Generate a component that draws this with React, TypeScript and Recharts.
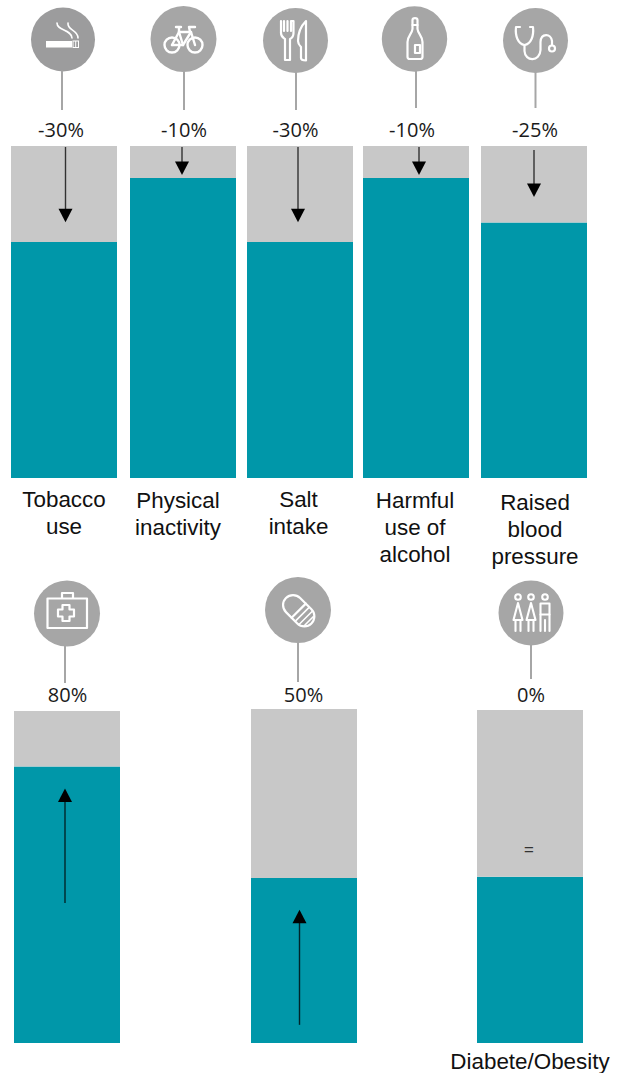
import React from "react";
import { ComposedChart, Bar, XAxis, YAxis, ReferenceLine } from "recharts";

// Voluntary targets: the upper row shows reductions, the lower row coverage goals.
const topCategories = [["Tobacco", "use"], ["Physical", "inactivity"], ["Salt", "intake"], ["Harmful", "use of", "alcohol"], ["Raised", "blood", "pressure"]];
const topPercentLabels = ["-30%", "-10%", "-30%", "-10%", "-25%"];
const topTargets = [70, 90, 70, 90, 75];
const topFull = [98.5, 99.6, 98.5, 99.6, 97.5];
const topArrowStarts = [98.2, 99.3, 98.2, 99.3, 96.3];
const topArrowTips = [75.9, 90.9, 75.9, 90.9, 82.5];

const bottomCategories = [[], [], ["Diabete/Obesity"]];
const bottomPercentLabels = ["80%", "50%", "0%"];
const bottomTargets = [80, 50, 50];
const bottomFull = [96.1, 101.2, 100.1];
const bottomArrowStarts = [40.5, 5.5, null];
const bottomArrowTips = [73.7, 40.4, null];

// Layout of the columns, in page pixels.
const TEAL = "#0097A9";
const GRAY = "#C8C8C8";
const PIN = "#A6A6A6";
const topLayout = [
  { left: 11, arrowDx: 1.5, textX: 64, textY: 507 },
  { left: 130, arrowDx: -1, textX: 178, textY: 508 },
  { left: 247, arrowDx: -2, textX: 298.5, textY: 507 },
  { left: 363, arrowDx: 3, textX: 415, textY: 508 },
  { left: 481, arrowDx: 0, textX: 535, textY: 510 },
];
const bottomLayout = [
  { left: 14, top: 711, height: 332, arrowDx: -2, textX: 0, textY: 0 },
  { left: 251, top: 709, height: 334, arrowDx: -4.5, textX: 0, textY: 0 },
  { left: 477, top: 710, height: 333, arrowDx: 0, textX: 530, textY: 1069 },
];

const topPins = [
  { cx: 63, cy: 39.5, r: 32, x: 62, y2: 110, labelX: 61, labelY: 137, fill: "#9C9C9D" },
  { cx: 183.5, cy: 39, r: 33, x: 184, y2: 110, labelX: 184, labelY: 137, fill: PIN },
  { cx: 295.5, cy: 40.5, r: 32.5, x: 296, y2: 110, labelX: 295.5, labelY: 137, fill: PIN },
  { cx: 414.5, cy: 39, r: 32.7, x: 416, y2: 108, labelX: 412, labelY: 137, fill: PIN },
  { cx: 535.5, cy: 40.5, r: 32.5, x: 535.5, y2: 108, labelX: 535, labelY: 137, fill: PIN },
];
const bottomPins = [
  { cx: 67, cy: 613.5, r: 33, x: 65, y2: 683, labelX: 67.5, labelY: 702, fill: PIN },
  { cx: 298, cy: 610, r: 33, x: 298, y2: 682, labelX: 303.5, labelY: 702, fill: PIN },
  { cx: 531, cy: 613, r: 32.5, x: 531, y2: 679, labelX: 531, labelY: 702, fill: PIN },
];

const iconStroke = { fill: "none", stroke: "#fff", strokeWidth: 2.2, strokeLinecap: "round", strokeLinejoin: "round" } as const;

function CigaretteIcon() {
  return (
    <g>
      <rect x={46} y={41} width={26} height={6.5} fill="#fff" />
      <rect x={73} y={41} width={5.5} height={6.5} fill="none" stroke="#fff" strokeWidth={1} />
      <line x1={75.7} y1={41} x2={75.7} y2={47.5} stroke="#fff" strokeWidth={1} />
      <path d="M57 23 C57 31 71 29 72 38" {...iconStroke} strokeWidth={1.6} />
      <path d="M68 23 C67 31 78 29 78 38" {...iconStroke} strokeWidth={1.6} />
    </g>
  );
}

function BicycleIcon() {
  return (
    <g {...iconStroke} strokeWidth={2.4}>
      <circle cx={172} cy={45} r={7.5} />
      <circle cx={195} cy={45} r={7.5} />
      <path d="M172 45 L179 32 L191 32 L195 45" />
      <path d="M172 45 L183 45 L191 32" />
      <path d="M179 32 L183 45" />
      <path d="M176 27 L181 27 M179 27 L179 32" />
      <path d="M190 32 L189 27 L195 27" />
    </g>
  );
}

function CutleryIcon() {
  return (
    <g {...iconStroke}>
      <path d="M281 21 L281 33 C281 37 284 38 285 39 L285 60 L290 60 L290 39 C292 38 293.5 37 293.5 33 L293.5 21 L291 21 L291 31 M287.5 21 L287.5 31 M284 21 L284 31" />
      <path d="M306 21 C301 26 298 34 298 41 C298 44 300 46 301 47 L301 58 C301 60 303 60.5 306 60.5 Z" />
    </g>
  );
}

function BottleIcon() {
  return (
    <g {...iconStroke}>
      <path d="M412.5 20 C412.5 17.5 417.5 17.5 417.5 20 L417.5 29 C418 34 422.5 36 422.5 42 L422.5 57 C422.5 59 421 59 420 59 L410 59 C408 59 407.5 58 407.5 57 L407.5 42 C407.5 36 412 34 412.5 29 Z" />
      <rect x={415} y={45} width={5} height={8} />
      <line x1={412.5} y1={25} x2={417.5} y2={25} />
    </g>
  );
}

function StethoscopeIcon() {
  return (
    <g {...iconStroke}>
      <path d="M520 27 L516 27 C515 36 518 44 524.5 45 C531 44 534 36 533 27 L530 27" />
      <path d="M524.5 45 L524.5 51 C525 62 540 62 540.5 50 L540.5 42 C541 33 551 33 552 41 L552 45" />
      <circle cx={552} cy={48.5} r={3} />
    </g>
  );
}

function MedKitIcon() {
  return (
    <g {...iconStroke}>
      <rect x={47.5} y={598.5} width={39.5} height={29.5} />
      <path d="M62 598 L62 593 L73 593 L73 598" />
      <path d="M62.5 605 L69.5 605 L69.5 609.5 L74 609.5 L74 616.5 L69.5 616.5 L69.5 621 L62.5 621 L62.5 616.5 L58 616.5 L58 609.5 L62.5 609.5 Z" />
    </g>
  );
}

function PillIcon() {
  return (
    <g transform="rotate(45 298 610)" {...iconStroke}>
      <rect x={281} y={600} width={36} height={20} rx={10} />
      <line x1={299} y1={600} x2={299} y2={620} />
      <line x1={304} y1={601} x2={304} y2={619} strokeWidth={1.6} />
      <line x1={309} y1={601.5} x2={309} y2={618.5} strokeWidth={1.6} />
      <line x1={313.5} y1={604} x2={313.5} y2={616} strokeWidth={1.6} />
    </g>
  );
}

function PeopleIcon() {
  const dress = (x: number) => (
    <g key={x}>
      <circle cx={x} cy={597} r={2.8} />
      <path d={`M${x} 603 L${x - 4.5} 620 L${x + 4.5} 620 Z`} />
      <path d={`M${x - 2.5} 621 L${x - 2.5} 631 M${x + 2.5} 621 L${x + 2.5} 631`} />
    </g>
  );
  return (
    <g {...iconStroke} strokeWidth={2.1}>
      {dress(518)}
      {dress(531)}
      <circle cx={545} cy={597} r={2.8} />
      <rect x={540.5} y={603.5} width={9} height={11} />
      <path d="M540.5 614.5 L540.5 631 M545 620 L545 631 M549.5 614.5 L549.5 631" />
    </g>
  );
}

const topIcons = [CigaretteIcon, BicycleIcon, CutleryIcon, BottleIcon, StethoscopeIcon];
const bottomIcons = [MedKitIcon, PillIcon, PeopleIcon];

type ArrowLineProps = { x1?: number; y1?: number; x2?: number; y2?: number; dx: number };

function ArrowShape({ x1 = 0, y1 = 0, x2 = 0, y2 = 0, dx }: ArrowLineProps) {
  const up = y2 < y1;
  const head = up ? 13.5 : -13.5;
  const x = x1 + dx;
  return (
    <g>
      <line x1={x} y1={y1} x2={x} y2={y2 + head * 0.9} stroke="#000" strokeWidth={1.4} opacity={0.75} />
      <polygon points={`${x},${y2} ${x - 7},${y2 + head} ${x + 7},${y2 + head}`} fill="#000" />
    </g>
  );
}

type ColumnProps = {
  left: number;
  top: number;
  height: number;
  target: number;
  full: number;
  arrowStart: number | null;
  arrowTip: number | null;
  arrowDx: number;
};

function Column({ left, top, height, target, full, arrowStart, arrowTip, arrowDx }: ColumnProps) {
  const rows = [{ name: "bar", target, rest: full - target }];
  return (
    <div style={{ position: "absolute", left, top }}>
      <ComposedChart width={106} height={height} data={rows} margin={{ top: 0, right: 0, bottom: 0, left: 0 }} barCategoryGap={0}>
        <XAxis dataKey="name" hide />
        <YAxis hide domain={[0, full]} />
        <Bar dataKey="target" stackId="level" fill={TEAL} isAnimationActive={false} />
        <Bar dataKey="rest" stackId="level" fill={GRAY} isAnimationActive={false} />
        {arrowStart !== null && arrowTip !== null && (
          <ReferenceLine
            segment={[{ x: "bar", y: arrowStart }, { x: "bar", y: arrowTip }]}
            shape={(p: ArrowLineProps) => <ArrowShape {...p} dx={arrowDx} />}
          />
        )}
      </ComposedChart>
    </div>
  );
}

const textBody = "'Liberation Sans', Arial, sans-serif";
const textPercent = "'Open Sans', sans-serif";

function Pin({ pin, label }: { pin: typeof topPins[number]; label: string }) {
  return (
    <g>
      <circle cx={pin.cx} cy={pin.cy} r={pin.r} fill={pin.fill} />
      <line x1={pin.x} y1={pin.cy + pin.r - 1} x2={pin.x} y2={pin.y2} stroke={PIN} strokeWidth={2} />
      <text x={pin.labelX} y={pin.labelY} textAnchor="middle" fontFamily={textPercent} fontSize={20} fill="#1a1a1a">
        {label}
      </text>
    </g>
  );
}

function CategoryLabel({ lines, x, y, step }: { lines: string[]; x: number; y: number; step: number }) {
  return (
    <text textAnchor="middle" fontFamily={textBody} fontSize={22.4} fill="#111">
      {lines.map((line, i) => (
        <tspan key={line} x={x} y={y + i * step}>
          {line}
        </tspan>
      ))}
    </text>
  );
}

export default function App() {
  return (
    <div style={{ position: "absolute", left: 0, top: 0, width: 617, height: 1073, background: "#fff", overflow: "hidden" }}>
      {topTargets.map((target, i) => (
        <Column
          key={topCategories[i][0]}
          left={topLayout[i].left}
          top={146}
          height={332}
          target={target}
          full={topFull[i]}
          arrowStart={topArrowStarts[i]}
          arrowTip={topArrowTips[i]}
          arrowDx={topLayout[i].arrowDx}
        />
      ))}
      {bottomTargets.map((target, i) => (
        <Column
          key={bottomPercentLabels[i]}
          left={bottomLayout[i].left}
          top={bottomLayout[i].top}
          height={bottomLayout[i].height}
          target={target}
          full={bottomFull[i]}
          arrowStart={bottomArrowStarts[i]}
          arrowTip={bottomArrowTips[i]}
          arrowDx={bottomLayout[i].arrowDx}
        />
      ))}
      <svg width={617} height={1073} style={{ position: "absolute", left: 0, top: 0, pointerEvents: "none" }}>
        {topPins.map((pin, i) => {
          const Icon = topIcons[i];
          return (
            <g key={i}>
              <Pin pin={pin} label={topPercentLabels[i]} />
              <Icon />
              <CategoryLabel lines={topCategories[i]} x={topLayout[i].textX} y={topLayout[i].textY} step={27} />
            </g>
          );
        })}
        {bottomPins.map((pin, i) => {
          const Icon = bottomIcons[i];
          return (
            <g key={i}>
              <Pin pin={pin} label={bottomPercentLabels[i]} />
              <Icon />
              <CategoryLabel lines={bottomCategories[i]} x={bottomLayout[i].textX} y={bottomLayout[i].textY} step={27} />
            </g>
          );
        })}
        <text x={529} y={856} textAnchor="middle" fontFamily={textPercent} fontSize={18} fill="#333">
          =
        </text>
      </svg>
    </div>
  );
}
